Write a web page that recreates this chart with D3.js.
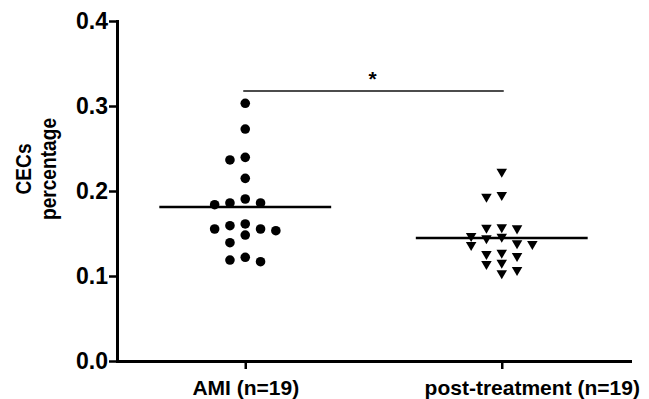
<!DOCTYPE html>
<html>
<head>
<meta charset="utf-8">
<script src="https://cdn.jsdelivr.net/npm/d3@7"></script>
<style>
  body { margin: 0; background: #fff; }
  svg { display: block; font-family: "Liberation Sans", Arial, sans-serif; font-weight: bold; }
</style>
</head>
<body>
<svg id="chart" width="649" height="399"></svg>
<script>
// data
const categories = ["AMI (n=19)", "post-treatment (n=19)"];
const amiValues = [0.3032, 0.2729, 0.2396, 0.2365, 0.2149, 0.1906, 0.1859, 0.1839, 0.1859,
  0.1553, 0.1482, 0.1592, 0.1612, 0.1533, 0.1553, 0.1392, 0.1220, 0.1168, 0.1188];
const postValues = [0.2227, 0.1953, 0.1933, 0.1573, 0.1561, 0.1568, 0.1471, 0.1444, 0.1462,
  0.1385, 0.1365, 0.1376, 0.1259, 0.1235, 0.1274, 0.1141, 0.1156, 0.1032, 0.1071];
const yTicks = [0, 0.1, 0.2, 0.3, 0.4];
const yTitle = ["CECs", "percentage"];
const sigLevel = 0.3176;
const sigLabel = "*";

const svg = d3.select("#chart");

const x = d3.scalePoint().domain(categories).range([117, 630]).padding(0.5);
const y = d3.scaleLinear().domain([0, 0.4]).range([361, 21]);

// prism-like column scatter: spread points sideways in slots when they crowd
const step = 15.3;
function swarm(values, cat) {
  const placed = [];
  const slots = [0, -1, 1, -2, 2, -3, 3, -4, 4, -5, 5];
  values.slice().sort((a, b) => b - a).forEach(v => {
    const py = y(v);
    const k = slots.find(s => !placed.some(p => p.k === s && Math.abs(p.y - py) < 9));
    placed.push({ v: v, k: k, y: py, x: x(cat) + k * step });
  });
  return placed;
}

const amiPts = swarm(amiValues, categories[0]);
const postPts = swarm(postValues, categories[1]);

// mean lines
const means = [
  { cat: categories[0], m: d3.mean(amiValues) },
  { cat: categories[1], m: d3.mean(postValues) }
];
svg.append("g")
  .selectAll("line")
  .data(means)
  .join("line")
  .attr("x1", d => x(d.cat) - x.step() * 0.335)
  .attr("x2", d => x(d.cat) + x.step() * 0.335)
  .attr("y1", d => y(d.m))
  .attr("y2", d => y(d.m))
  .attr("stroke", "#000")
  .attr("stroke-width", 2.5);

svg.append("g")
  .selectAll("circle")
  .data(amiPts)
  .join("circle")
  .attr("cx", d => d.x)
  .attr("cy", d => d.y)
  .attr("r", 4.8)
  .attr("fill", "#000");

const tri = d3.symbol().type(d3.symbolTriangle).size(48);
svg.append("g")
  .selectAll("path")
  .data(postPts)
  .join("path")
  .attr("d", tri)
  .attr("transform", d => `translate(${d.x},${d.y}) rotate(180)`)
  .attr("fill", "#000");

// significance bar
svg.append("line")
  .attr("x1", x(categories[0]) - 2)
  .attr("x2", x(categories[1]) + 2)
  .attr("y1", y(sigLevel))
  .attr("y2", y(sigLevel))
  .attr("stroke", "#111")
  .attr("stroke-width", 1.4);

svg.append("text")
  .attr("x", (x(categories[0]) + x(categories[1])) / 2 - 1)
  .attr("y", y(sigLevel) - 5)
  .attr("text-anchor", "middle")
  .attr("font-size", 21)
  .text(sigLabel);

// axes
const yAxis = svg.append("g")
  .attr("transform", "translate(117,0)")
  .call(d3.axisLeft(y).tickValues(yTicks).tickFormat(d3.format(".1f"))
    .tickSize(8).tickSizeOuter(0).tickPadding(1));

const xAxis = svg.append("g")
  .attr("transform", "translate(0,361)")
  .call(d3.axisBottom(x).tickSize(8).tickSizeOuter(0).tickPadding(11));

[yAxis, xAxis].forEach(g => {
  g.select(".domain").attr("stroke-width", 3).attr("stroke-linecap", "square");
  g.selectAll(".tick line").attr("stroke-width", 2.5);
  g.selectAll("text").attr("fill", "#000").attr("font-family", null);
});
yAxis.attr("font-size", 23);
xAxis.attr("font-size", 21);
xAxis.selectAll(".tick text").filter((d, i) => i === 1).attr("dx", 30);

svg.append("text")
  .attr("transform", "translate(31,169) rotate(-90) scale(0.87,1)")
  .attr("text-anchor", "middle")
  .attr("font-size", 22)
  .selectAll("tspan")
  .data(yTitle)
  .join("tspan")
  .attr("x", 0)
  .attr("dy", (d, i) => i === 0 ? 0 : 25)
  .text(d => d);
</script>
</body>
</html>
